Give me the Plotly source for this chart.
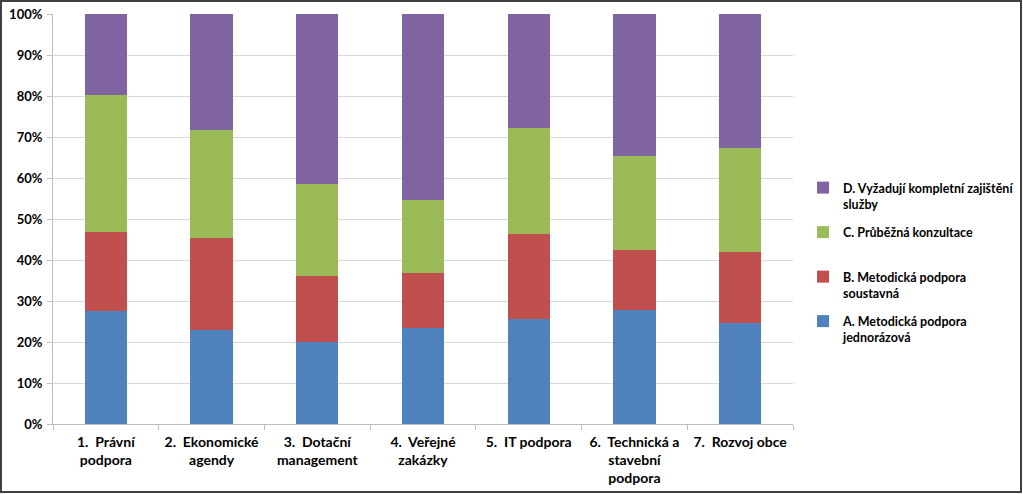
import plotly.graph_objects as go

categories = ["1.  Právní<br>podpora", "2.  Ekonomické<br>agendy", "3.  Dotační<br>management",
              "4.  Veřejné<br>zakázky", "5.  IT podpora", "6.  Technická a<br>stavební<br>podpora",
              "7.  Rozvoj obce"]
series_names = ["A. Metodická podpora<br>jednorázová", "B. Metodická podpora<br>soustavná",
                "C. Průběžná konzultace<br>\u00a0", "D. Vyžadují kompletní zajištění<br>služby"]
a_vals = [27.6, 22.9, 20.0, 23.4, 25.6, 27.8, 24.6]
b_vals = [19.2, 22.5, 16.1, 13.4, 20.7, 14.6, 17.4]
c_vals = [33.4, 26.3, 22.4, 17.8, 25.9, 23.0, 25.3]
d_vals = [19.8, 28.3, 41.5, 45.4, 27.8, 34.6, 32.7]
colors = ["#4F81BD", "#C0504D", "#9BBB59", "#8064A2"]
y_ticks = list(range(0, 101, 10))
y_tick_labels = [f"{v}%" for v in y_ticks]

fig = go.Figure()
for i, (name, vals) in enumerate(zip(series_names, [a_vals, b_vals, c_vals, d_vals])):
    fig.add_trace(go.Bar(x=categories, y=vals, name=name, marker_color=colors[i],
                         marker_line_width=0, legendgroup=f"g{i}", legendrank=4 - i))

W, H = 1023, 494
ml, mr, mt, mb = 53, 230, 14, 70
pw, ph = W - ml - mr, H - mt - mb

fig.update_layout(
    width=W, height=H,
    margin=dict(l=ml, r=mr, t=mt, b=mb, pad=0, autoexpand=False),
    barmode="stack", bargap=0.6,
    paper_bgcolor="white", plot_bgcolor="white",
    font=dict(family="Lato, 'Open Sans', sans-serif", color="#000000"),
    legend=dict(x=(803 - ml) / pw, y=(424 - 173) / ph, xanchor="left", yanchor="top",
                traceorder="grouped", tracegroupgap=9, valign="top",
                font=dict(size=12.5, family="Lato, sans-serif", weight="bold"),
                itemwidth=30),
    xaxis=dict(tickson="boundaries", ticks="outside", ticklen=5, tickcolor="#BFBFBF",
               showline=True, linecolor="#BFBFBF", linewidth=1, automargin=False,
               ticklabelstandoff=5,
               tickfont=dict(size=14, weight="bold"), showgrid=False),
    yaxis=dict(range=[0, 100], tickvals=y_ticks, ticktext=y_tick_labels,
               ticks="outside", ticklen=5, tickcolor="#BFBFBF", automargin=False,
               showline=True, linecolor="#BFBFBF", linewidth=1, ticklabelstandoff=2,
               gridcolor="#D9D9D9", gridwidth=1, zeroline=False,
               tickfont=dict(size=13, weight="bold")),
    shapes=[dict(type="rect", xref="paper", yref="paper",
                 x0=(1 - ml) / pw, x1=(W - 2 - ml) / pw,
                 y0=-(mb - 2) / ph, y1=1 + (mt - 1) / ph,
                 line=dict(color="#404040", width=2), fillcolor="rgba(0,0,0,0)")],
)

fig.write_html("out.html", config={"displayModeBar": False},
               post_script="document.body.style.margin='0';document.body.style.padding='0';"
                           "document.body.style.overflow='hidden';")
